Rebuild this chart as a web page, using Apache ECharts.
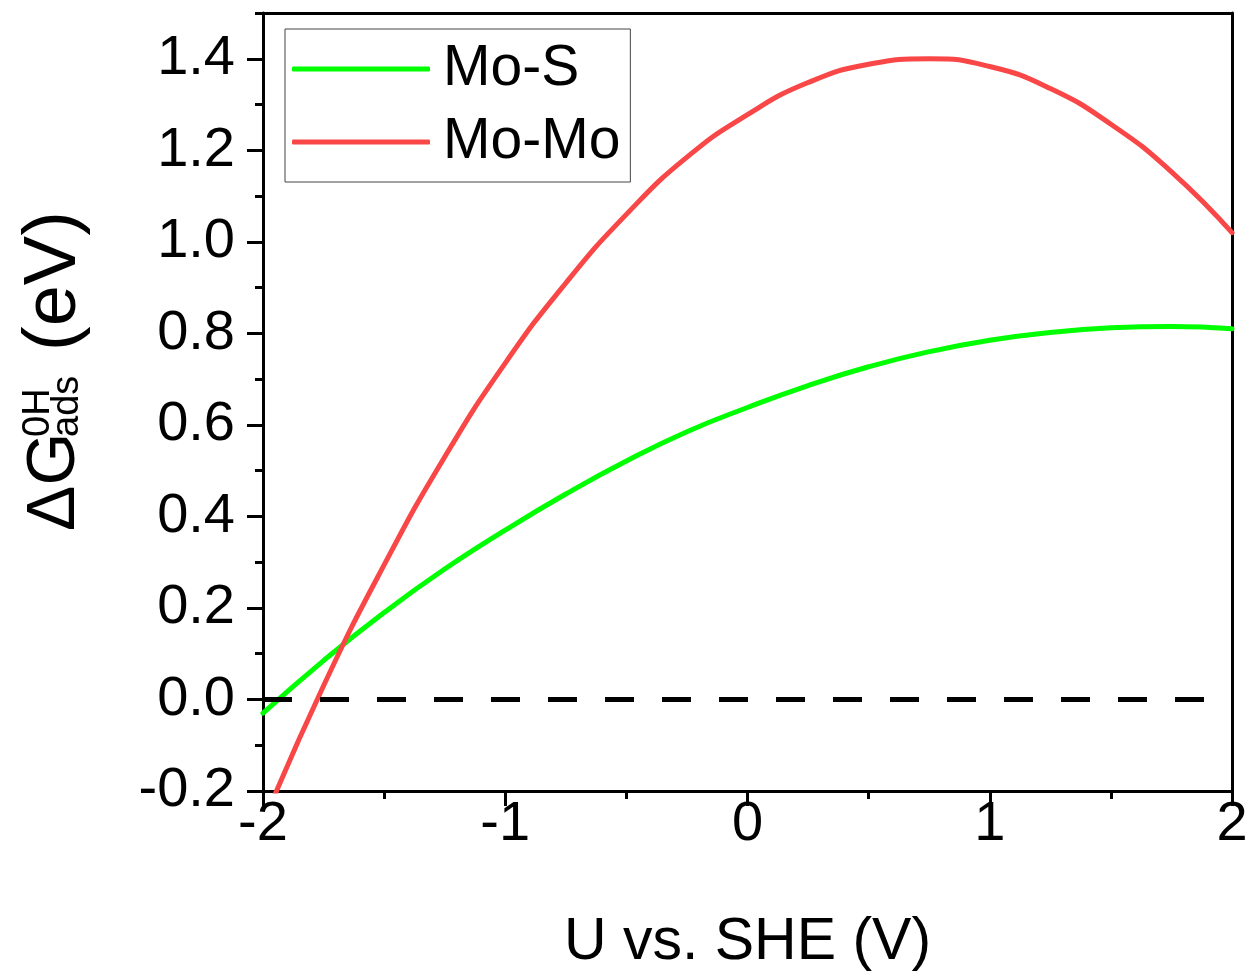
<!DOCTYPE html>
<html>
<head>
<meta charset="utf-8">
<script src="https://cdn.jsdelivr.net/npm/echarts@6/dist/echarts.min.js"></script>
<style>
html,body{margin:0;padding:0;background:#fff;}
#chart{width:1255px;height:977px;}
</style>
</head>
<body>
<div id="chart"></div>
<script>
// Data
const uValues = [-2, -1.75, -1.5, -1.25, -1, -0.75, -0.5, -0.25, 0, 0.25, 0.5, 0.75, 1, 1.25, 1.5, 1.75, 2];
const moS = [-0.03, 0.085, 0.19, 0.285, 0.37, 0.449, 0.521, 0.585, 0.638, 0.686, 0.727, 0.76, 0.785, 0.802, 0.812, 0.815, 0.81];
const moMo = [-0.27, 0.03, 0.294, 0.53, 0.735, 0.91, 1.06, 1.185, 1.278, 1.348, 1.388, 1.40, 1.383, 1.335, 1.257, 1.153, 1.02];
const refLineX = [-2, 1.93];
const refLineY = [0, 0];
const seriesNames = ['Mo-S', 'Mo-Mo'];
const xTicks = [-2, -1, 0, 1, 2];
const yTicks = [-0.2, 0, 0.2, 0.4, 0.6, 0.8, 1.0, 1.2, 1.4];

const FONT = '"Liberation Sans", Arial, sans-serif';
const chart = echarts.init(document.getElementById('chart'));

const pair = (xs, ys) => xs.map((x, i) => [x, ys[i]]);

chart.setOption({
  animation: false,
  backgroundColor: '#fff',
  grid: { left: 263, right: 23, top: 13, bottom: 182, containLabel: false },
  legend: {
    data: seriesNames,
    orient: 'vertical',
    left: 285, top: 29,
    padding: [10, 10, 10, 7],
    icon: 'roundRect',
    itemWidth: 138, itemHeight: 5, itemGap: 13,
    borderColor: '#444', borderWidth: 1,
    textStyle: { fontFamily: FONT, fontSize: 57, color: '#000', lineHeight: 60, padding: [0, 0, 0, 8] }
  },
  xAxis: [
    {
      type: 'value', min: -2, max: 2, interval: 1, position: 'bottom',
      axisLine: { show: true, onZero: false, lineStyle: { color: '#000', width: 3 } },
      axisTick: { show: true, inside: false, length: 15, customValues: xTicks, lineStyle: { color: '#000', width: 3 } },
      minorTick: { show: true, splitNumber: 2, length: 8, lineStyle: { color: '#000', width: 3 } },
      splitLine: { show: false },
      axisLabel: { fontFamily: FONT, fontSize: 56, color: '#000', margin: 6, customValues: xTicks, formatter: v => String(v) },
      name: 'U vs. SHE (V)', nameLocation: 'middle', nameGap: 122,
      nameTextStyle: { fontFamily: FONT, fontSize: 59, color: '#000' }
    },
    {
      type: 'value', min: -2, max: 2, position: 'top',
      axisLine: { show: true, onZero: false, lineStyle: { color: '#000', width: 3 } },
      axisTick: { show: false }, axisLabel: { show: false }, splitLine: { show: false }
    }
  ],
  yAxis: [
    {
      type: 'value', min: -0.2, max: 1.5, interval: 0.2, position: 'left',
      axisLine: { show: true, onZero: false, lineStyle: { color: '#000', width: 3 } },
      axisTick: { show: true, inside: false, length: 16, customValues: yTicks, lineStyle: { color: '#000', width: 3 } },
      splitLine: { show: false },
      axisLabel: { fontFamily: FONT, fontSize: 56, color: '#000', margin: 28, customValues: yTicks, formatter: v => v.toFixed(1) }
    },
    {
      type: 'value', min: -0.2, max: 1.5, interval: 0.1, position: 'left',
      axisLine: { show: false, onZero: false },
      axisTick: { show: true, inside: false, length: 8, lineStyle: { color: '#000', width: 3 } },
      axisLabel: { show: false }, splitLine: { show: false }
    },
    {
      type: 'value', min: -0.2, max: 1.5, position: 'right',
      axisLine: { show: true, onZero: false, lineStyle: { color: '#000', width: 3 } },
      axisTick: { show: false }, axisLabel: { show: false }, splitLine: { show: false }
    }
  ],
  graphic: [{
    type: 'group', rotation: Math.PI / 2, x: 80, y: 531,
    children: [
      { type: 'text', x: 0, y: -25, style: { text: 'ΔG', font: '68px ' + FONT, fill: '#000', verticalAlign: 'middle', align: 'left' } },
      { type: 'text', x: 94, y: -41, style: { text: '0H', font: '38px ' + FONT, fill: '#000', verticalAlign: 'middle', align: 'left' } },
      { type: 'text', x: 94, y: -12, style: { text: 'ads', font: '38px ' + FONT, fill: '#000', verticalAlign: 'middle', align: 'left' } },
      { type: 'text', x: 180, y: -25, style: { text: '(eV)', font: '74px ' + FONT, fill: '#000', verticalAlign: 'middle', align: 'left' } }
    ]
  }],
  series: [
    {
      name: 'Mo-S', type: 'line', smooth: true, symbol: 'none', clip: true,
      data: pair(uValues, moS),
      lineStyle: { color: '#00ff00', width: 5, cap: 'round' }, itemStyle: { color: '#00ff00' }, z: 2
    },
    {
      name: 'Mo-Mo', type: 'line', smooth: true, symbol: 'none', clip: true,
      data: pair(uValues, moMo),
      lineStyle: { color: '#f94646', width: 5, cap: 'round' }, itemStyle: { color: '#f94646' }, z: 3
    },
    {
      name: 'ref', type: 'line', symbol: 'none', clip: true,
      data: pair(refLineX, refLineY),
      lineStyle: { color: '#000', width: 5, type: [29, 28] }, z: 4, silent: true
    }
  ]
});
</script>
</body>
</html>
